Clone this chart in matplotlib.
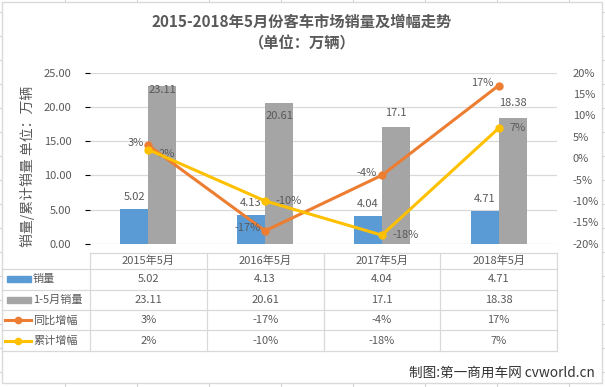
import matplotlib.pyplot as plt
import numpy as np
from matplotlib.patches import Rectangle
from matplotlib.lines import Line2D

plt.rcParams['font.family'] = ['Noto Sans CJK SC', 'DejaVu Sans']

# data
categories = ['2015年5月', '2016年5月', '2017年5月', '2018年5月']
sales = [5.02, 4.13, 4.04, 4.71]            # 销量 (万辆)
sales_ytd = [23.11, 20.61, 17.1, 18.38]     # 1-5月销量 (万辆)
yoy_growth = [3, -17, -4, 17]               # 同比增幅 (%)
ytd_growth = [2, -10, -18, 7]               # 累计增幅 (%)

BLUE = '#5B9BD5'
GRAY = '#A5A5A5'
ORANGE = '#ED7D31'
YELLOW = '#FFC000'
TEXT = '#595959'
GRID = '#D9D9D9'

# layout in pixels
W, H = 605, 387
PL, PR, PT, PB = 90, 557, 72.7, 243.7
row_edges = [252.7, 269.3, 289.6, 310.0, 330.4, 350.7]
FS = 8

fig = plt.figure(figsize=(W / 100, H / 100), dpi=100)

# background: spreadsheet grid + chart frame + table
bg = fig.add_axes([0, 0, 1, 1])
bg.set_xlim(0, W)
bg.set_ylim(H, 0)
bg.axis('off')
for gx in np.arange(65, W, 72):
    bg.plot([gx, gx], [0, H], color='#D4D4D4', lw=0.8)
for gy in np.arange(11.7, H, 24):
    bg.plot([0, W], [gy, gy], color='#D4D4D4', lw=0.8)
bg.add_patch(Rectangle((2, 2), 600, 381, facecolor='white', edgecolor=GRID, lw=1, zorder=2))

bg.text(302, 22, '2015-2018年5月份客车市场销量及增幅走势', ha='center', va='center',
        fontsize=11, fontweight='bold', color=TEXT, zorder=3)
bg.text(302, 43, '（单位：万辆）', ha='center', va='center',
        fontsize=11, fontweight='bold', color=TEXT, zorder=3)
bg.text(28, 166, '销量/累计销量 单位：万辆', rotation=90, ha='center', va='center',
        fontsize=10, color=TEXT, zorder=3)
bg.text(595, 373, '制图:第一商用车网 cvworld.cn', ha='right', va='center',
        fontsize=9.8, color='#333333', zorder=3)

# data table
n = len(categories)
col_w = (PR - PL) / n
col_edges = [PL + i * col_w for i in range(n + 1)]
bg.plot([PL, PR], [row_edges[0]] * 2, color=GRID, lw=0.9, zorder=3)
for ry in row_edges[1:]:
    bg.plot([2, PR], [ry, ry], color=GRID, lw=0.9, zorder=3)
for cx in col_edges:
    bg.plot([cx, cx], [row_edges[0], row_edges[-1]], color=GRID, lw=0.9, zorder=3)

row_mid = [(row_edges[i] + row_edges[i + 1]) / 2 for i in range(len(row_edges) - 1)]
for i, cat in enumerate(categories):
    bg.text(col_edges[i] + col_w / 2, row_mid[0], cat, ha='center', va='center',
            fontsize=FS, color=TEXT, zorder=3)

table_rows = [
    ('销量', [f'{v:.2f}' for v in sales]),
    ('1-5月销量', [f'{v:g}' for v in sales_ytd]),
    ('同比增幅', [f'{v}%' for v in yoy_growth]),
    ('累计增幅', [f'{v}%' for v in ytd_growth]),
]
for r, (name, vals) in enumerate(table_rows):
    ym = row_mid[r + 1]
    bg.text(33, ym, name, ha='left', va='center', fontsize=FS, color=TEXT, zorder=3)
    for i, s in enumerate(vals):
        bg.text(col_edges[i] + col_w / 2, ym, s, ha='center', va='center',
                fontsize=FS, color=TEXT, zorder=3)

# legend keys
for r, c in enumerate([BLUE, GRAY]):
    bg.add_patch(Rectangle((7, row_mid[r + 1] - 3), 24, 6, color=c, zorder=3))
for r, c in enumerate([ORANGE, YELLOW]):
    ym = row_mid[r + 3]
    bg.add_line(Line2D([5, 31], [ym, ym], color=c, lw=2.2, zorder=3))
    bg.plot([18], [ym], marker='o', ms=4.5, color=c, zorder=4)

# main chart
ax = fig.add_axes([PL / W, 1 - PB / H, (PR - PL) / W, (PB - PT) / H])
ax.patch.set_alpha(0)
x = np.arange(n)
bw = 0.24
ax.bar(x - bw / 2, sales, bw, color=BLUE, zorder=2)
ax.bar(x + bw / 2, sales_ytd, bw, color=GRAY, zorder=2)
ax.set_xlim(-0.5, n - 0.5)
ax.set_ylim(0, 25)
ax.set_yticks(np.arange(0, 26, 5))
ax.set_yticklabels([f'{v:.2f}' for v in np.arange(0, 26, 5)])
ax.yaxis.grid(True, color=GRID, lw=0.9)
ax.set_axisbelow(True)
ax.set_xticks([])
ax.tick_params(axis='y', left=False, labelsize=FS, labelcolor=TEXT, pad=10)
for s in ax.spines.values():
    s.set_visible(False)

# bar labels
for xi, v in zip(x, sales):
    ax.annotate(f'{v:.2f}', (xi - bw / 2, v), xytext=(0, 9), textcoords='offset points',
                ha='center', va='center', fontsize=FS, color=TEXT)
gray_dy = [-3, -9.5, 10, 11]
for xi, v, dy in zip(x, sales_ytd, gray_dy):
    ax.annotate(f'{v:g}', (xi + bw / 2, v), xytext=(0, dy), textcoords='offset points',
                ha='center', va='center', fontsize=FS, color=TEXT, zorder=5)

# growth lines on secondary axis
ax2 = ax.twinx()
ax2.set_ylim(-20, 20)
ax2.set_yticks(np.arange(-20, 21, 5))
ax2.set_yticklabels([f'{v}%' for v in np.arange(-20, 21, 5)])
ax2.tick_params(axis='y', right=False, labelsize=FS, labelcolor=TEXT, pad=8)
for s in ax2.spines.values():
    s.set_visible(False)
ax2.plot(x, yoy_growth, color=ORANGE, lw=2.2, marker='o', ms=5, zorder=3)
ax2.plot(x, ytd_growth, color=YELLOW, lw=2.2, marker='o', ms=5, zorder=4)

for xi, v in zip(x, yoy_growth):
    ax2.annotate(f'{v}%', (xi, v), xytext=(-3.5, 2), textcoords='offset points',
                 ha='right', va='center', fontsize=FS, color=TEXT)
yel_dy = [-3, 0, 0, 0]
for xi, v, dy in zip(x, ytd_growth, yel_dy):
    ax2.annotate(f'{v}%', (xi, v), xytext=(7.5, dy), textcoords='offset points',
                 ha='left', va='center', fontsize=FS, color=TEXT)

fig.savefig('out.png', dpi=100)
